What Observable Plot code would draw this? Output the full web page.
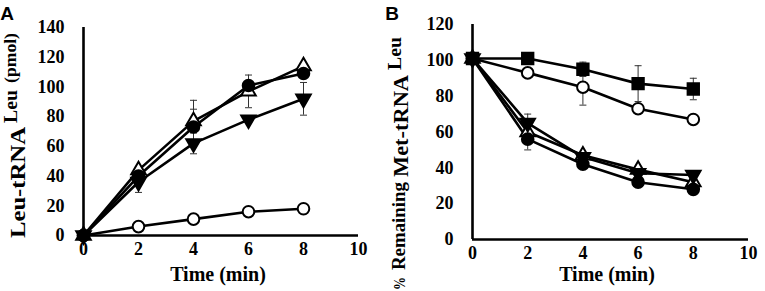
<!DOCTYPE html>
<html>
<head>
<meta charset="utf-8">
<script src="https://cdn.jsdelivr.net/npm/d3@7"></script>
<script src="https://cdn.jsdelivr.net/npm/@observablehq/plot@0.6"></script>
<style>
  html, body { margin: 0; padding: 0; background: #fff; }
  #root { position: relative; width: 765px; height: 291px; overflow: hidden; }
  #root svg { position: absolute; top: 0; }
  #root svg text { font-family: "Liberation Serif", "Times New Roman", serif !important; font-weight: bold !important; }
  #root svg text.panel-title { font-family: "Liberation Sans", Arial, sans-serif !important; }
</style>
</head>
<body>
<div id="root"></div>
<script>
// ---------- data ----------
const time = [0, 2, 4, 6, 8];
const xTicks = [0, 2, 4, 6, 8, 10];

// Panel A: Leu-tRNA^Leu (pmol)
const aTicks = [0, 20, 40, 60, 80, 100, 120, 140];
const aOpenCircle    = [0, 6, 11, 16, 18];
const aFilledDown    = [0, 36, 62, 78, 92];
const aOpenTriangle  = [0, 44, 77, 97, 114];
const aFilledCircle  = [0, 40, 73, 101, 109];
const aOpenCircleErr   = [0, 0, 0, 0, 0];
const aFilledDownErr   = [0, 7, 0, 0, 11];
const aOpenTriangleErr = [0, 0, 8, 11, 0];
const aFilledCircleErr = [0, 0, 18, 0, 0];

// Panel B: % Remaining Met-tRNA^Leu
const bTicks = [0, 20, 40, 60, 80, 100, 120];
const bOpenCircle    = [101, 93, 85, 73, 67];
const bOpenTriangle  = [101, 60, 47, 39, 32];
const bFilledCircle  = [101, 56, 42, 32, 28];
const bFilledDown    = [101, 65, 46, 37, 36];
const bFilledSquare  = [101, 101, 95, 87, 84];
const bOpenCircleErr   = [0, 0, 10, 0, 0];
const bOpenTriangleErr = [0, 10, 0, 0, 0];
const bFilledCircleErr = [0, 0, 0, 0, 0];
const bFilledDownErr   = [0, 0, 0, 0, 0];
const bFilledSquareErr = [0, 0, 4, 10, 6];

// ---------- symbols ----------
const sqrt3 = Math.sqrt(3);
const triangleDown = {
  draw(context, size) {
    const y = -Math.sqrt(size / (sqrt3 * 3));
    context.moveTo(0, -y * 2);
    context.lineTo(-sqrt3 * y, y);
    context.lineTo(sqrt3 * y, y);
    context.closePath();
  }
};
const cap = {
  draw(context) {
    context.moveTo(-3.5, 0);
    context.lineTo(3.5, 0);
  }
};

const serif = "Liberation Serif";

function rows(values, errs) {
  return time.map((t, i) => ({x: t, y: values[i], err: errs[i]}));
}

function seriesMarks(values, errs, symbol, fill, r) {
  const data = rows(values, errs);
  const withErr = data.filter(d => d.err > 0);
  return {
    line: Plot.line(data, {x: "x", y: "y", stroke: "black", strokeWidth: 2.6}),
    err: [
      Plot.ruleX(withErr, {x: "x", y1: d => d.y - d.err, y2: d => d.y + d.err, stroke: "#333", strokeWidth: 1}),
      Plot.dot(withErr, {x: "x", y: d => d.y + d.err, symbol: cap, stroke: "#333", strokeWidth: 1}),
      Plot.dot(withErr, {x: "x", y: d => d.y - d.err, symbol: cap, stroke: "#333", strokeWidth: 1})
    ],
    dot: Plot.dot(data, {x: "x", y: "y", symbol, r, fill, stroke: "black", strokeWidth: 2})
  };
}

function panel(opts) {
  const s = opts.series.map(d => seriesMarks(d.values, d.errs, d.symbol, d.fill, d.r));
  return Plot.plot({
    width: 380,
    height: 291,
    marginLeft: opts.marginLeft,
    marginRight: opts.marginRight,
    marginTop: opts.marginTop,
    marginBottom: opts.marginBottom,
    style: {fontSize: "18px", color: "black", background: "transparent", overflow: "visible"},
    x: {domain: [0, 10]},
    y: {domain: opts.yDomain},
    marks: [
      Plot.axisX({ticks: xTicks, tickSize: 0, tickPadding: 7, label: null, fontSize: 18, fill: "black"}),
      Plot.axisY({ticks: opts.yTicks, tickSize: 0, tickPadding: 19, label: null, fontSize: 18, fill: "black"}),
      ...s.map(d => d.line),
      ...s.flatMap(d => d.err),
      ...s.map(d => d.dot),
      Plot.ruleX([0], {stroke: "black", strokeWidth: 2.6}),
      Plot.ruleY([0], {stroke: "black", strokeWidth: 2.6})
    ]
  });
}

const root = document.getElementById("root");

// Panel A
const svgA = panel({
  marginLeft: 83, marginRight: 22, marginTop: 27, marginBottom: 56,
  yDomain: [0, 140], yTicks: aTicks,
  series: [
    {values: aOpenCircle, errs: aOpenCircleErr, symbol: "circle", fill: "white", r: 5.8},
    {values: aFilledDown, errs: aFilledDownErr, symbol: triangleDown, fill: "black", r: 5.4},
    {values: aOpenTriangle, errs: aOpenTriangleErr, symbol: "triangle", fill: "white", r: 5.4},
    {values: aFilledCircle, errs: aFilledCircleErr, symbol: "circle", fill: "black", r: 5.8}
  ]
});
svgA.style.left = "0px";
root.appendChild(svgA);

// Panel B
const svgB = panel({
  marginLeft: 87, marginRight: 17, marginTop: 24, marginBottom: 52,
  yDomain: [0, 120], yTicks: bTicks,
  series: [
    {values: bOpenCircle, errs: bOpenCircleErr, symbol: "circle", fill: "white", r: 5.8},
    {values: bOpenTriangle, errs: bOpenTriangleErr, symbol: "triangle", fill: "white", r: 5.4},
    {values: bFilledCircle, errs: bFilledCircleErr, symbol: "circle", fill: "black", r: 5.8},
    {values: bFilledDown, errs: bFilledDownErr, symbol: triangleDown, fill: "black", r: 5.4},
    {values: bFilledSquare, errs: bFilledSquareErr, symbol: "square", fill: "black", r: 6.4}
  ]
});
svgB.style.left = "385px";
root.appendChild(svgB);

// ---------- labels ----------
function addTitle(svg, letter, x) {
  d3.select(svg).append("text")
    .attr("class", "panel-title")
    .attr("x", x).attr("y", 20)
    .attr("font-size", 19)
    .attr("fill", "black").text(letter);
}
function addXLabel(svg, cx) {
  d3.select(svg).append("text")
    .attr("x", cx).attr("y", 281)
    .attr("text-anchor", "middle")
    .attr("font-size", 20)
    .attr("fill", "black").text("Time (min)");
}
// rotated text piece: baseline at x, running upward from yStart to yEnd
function vText(svg, str, x, yStart, yEnd, size) {
  d3.select(svg).append("text")
    .attr("transform", `translate(${x},${yStart}) rotate(-90)`)
    .attr("text-anchor", "start")
    .attr("font-size", size)
    .attr("fill", "black")
    .attr("textLength", yStart - yEnd)
    .attr("lengthAdjust", "spacingAndGlyphs")
    .text(str);
}

addTitle(svgA, "A", 7);
addTitle(svgB, "B", 7);
addXLabel(svgA, 218);
addXLabel(svgB, 222);

// y label A
vText(svgA, "Leu-tRNA", 25, 238, 127, 22);
vText(svgA, "Leu", 17, 123, 90, 18);
vText(svgA, "(pmol)", 16, 83, 33, 17);

// y label B
vText(svgB, "%", 20, 290, 277, 16);
vText(svgB, "Remaining", 20, 270, 182, 19);
vText(svgB, "Met-tRNA", 23, 177, 75, 22);
vText(svgB, "Leu", 16, 70, 37, 19);
</script>
</body>
</html>
